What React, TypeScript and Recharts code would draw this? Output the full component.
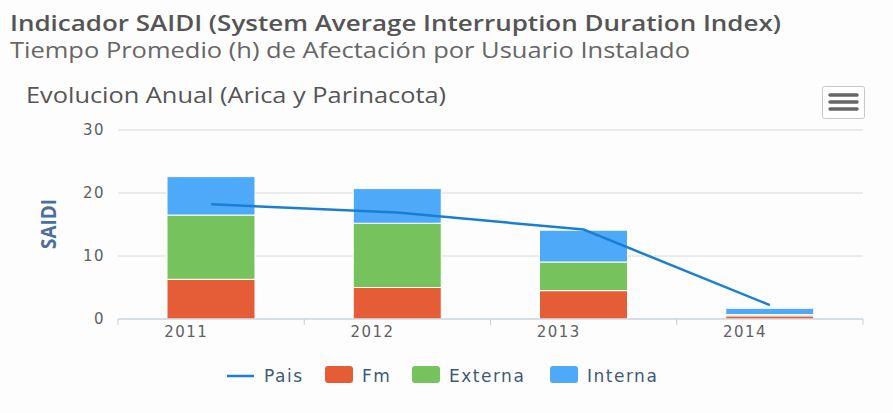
import { ComposedChart, Bar, Line, XAxis, YAxis, CartesianGrid } from "recharts";

const years = ["2011", "2012", "2013", "2014"];
const fm = [6.3, 5.0, 4.5, 0.5];
const externa = [10.2, 10.2, 4.55, 0.2];
const interna = [6.1, 5.5, 5.05, 1.0];
const pais = [18.2, 16.9, 14.2, 2.2];
const yTicks = [0, 10, 20, 30];

const data = years.map((year, i) => ({
  year,
  fm: fm[i],
  externa: externa[i],
  interna: interna[i],
  pais: pais[i],
}));

const W = 893;
const H = 413;
const margin = { top: 130, right: 30, bottom: 64, left: 0 };
const Y_AXIS_W = 118;
const PLOT_W = W - Y_AXIS_W - margin.right;
const HALF_BAND = PLOT_W / years.length / 2;

const COLORS = {
  pais: "#1a7fd2",
  fm: "#e55d36",
  externa: "#76c35e",
  interna: "#4ea9f8",
};

const tickFont = "'DejaVu Sans', Verdana, sans-serif";

// tick with boundary tick marks (category edges) and label shifted left
function XTick(props: any) {
  const { x, y, payload, index } = props;
  const last = index === years.length - 1;
  return (
    <g>
      <line x1={x - HALF_BAND} x2={x - HALF_BAND} y1={y} y2={y + 6} stroke="#c0d0e0" />
      {last && <line x1={x + HALF_BAND} x2={x + HALF_BAND} y1={y} y2={y + 6} stroke="#c0d0e0" />}
      <text
        x={x - 47}
        y={y + 18}
        fill="#606060"
        fontSize={15}
        letterSpacing={1.5}
        fontFamily={tickFont}
      >
        {payload.value}
      </text>
    </g>
  );
}

const legendItems = [
  { key: "pais", label: "Pais", type: "line", x: 227 },
  { key: "fm", label: "Fm", type: "rect", x: 325 },
  { key: "externa", label: "Externa", type: "rect", x: 412 },
  { key: "interna", label: "Interna", type: "rect", x: 550 },
] as const;

export default function App() {
  return (
    <div
      style={{
        position: "absolute",
        left: 0,
        top: 0,
        width: W,
        height: H,
        background: "#fdfdfd",
      }}
    >
      <ComposedChart width={W} height={H} data={data} margin={margin}>
        <CartesianGrid vertical={false} stroke="#d8d8d8" />
        <XAxis
          dataKey="year"
          height={30}
          tickSize={0}
          tickMargin={0}
          axisLine={{ stroke: "#c0d0e0" }}
          tickLine={false}
          tick={<XTick />}
          interval={0}
        />
        <YAxis
          width={Y_AXIS_W}
          domain={[0, 30]}
          ticks={yTicks}
          axisLine={false}
          tickLine={false}
          tickSize={6}
          tickMargin={7}
          tick={{ fill: "#606060", fontSize: 15, letterSpacing: 1.5, fontFamily: tickFont }}
        />
        <Bar dataKey="fm" stackId="s" fill={COLORS.fm} stroke="#ffffff" strokeWidth={1} barSize={88} isAnimationActive={false} />
        <Bar dataKey="externa" stackId="s" fill={COLORS.externa} stroke="#ffffff" strokeWidth={1} barSize={88} isAnimationActive={false} />
        <Bar dataKey="interna" stackId="s" fill={COLORS.interna} stroke="#ffffff" strokeWidth={1} barSize={88} isAnimationActive={false} />
        <Line
          type="linear"
          dataKey="pais"
          stroke={COLORS.pais}
          strokeWidth={2.5}
          dot={false}
          activeDot={false}
          isAnimationActive={false}
        />
      </ComposedChart>

      <svg
        width={W}
        height={H}
        style={{ position: "absolute", left: 0, top: 0, pointerEvents: "none" }}
      >
        <text x={10} y={31} fontFamily="'Open Sans', sans-serif" fontWeight={600} fontSize={21} fill="#555555" textLength={771} lengthAdjust="spacingAndGlyphs">
          Indicador SAIDI (System Average Interruption Duration Index)
        </text>
        <text x={10} y={58} fontFamily="'Open Sans', sans-serif" fontSize={21} fill="#666666" textLength={680} lengthAdjust="spacingAndGlyphs">
          Tiempo Promedio (h) de Afectación por Usuario Instalado
        </text>
        <text x={26} y={103} fontFamily="'Open Sans', sans-serif" fontSize={21} fill="#555555" textLength={420} lengthAdjust="spacingAndGlyphs">
          Evolucion Anual (Arica y Parinacota)
        </text>

        {/* export menu button */}
        <rect x={822.5} y={86.5} width={42} height={32} rx={2} fill="#ffffff" stroke="#c8c8c8" />
        {[95, 102, 109].map((ly) => (
          <line key={ly} x1={830} x2={857} y1={ly} y2={ly} stroke="#666666" strokeWidth={3.5} strokeLinecap="round" />
        ))}

        {/* y axis title */}
        <text
          x={0}
          y={0}
          transform="translate(56 224) rotate(-90)"
          textAnchor="middle"
          fontFamily="'Open Sans', sans-serif"
          fontWeight={700}
          fontSize={22}
          fill="#4a6f9c"
          textLength={50}
          lengthAdjust="spacingAndGlyphs"
        >
          SAIDI
        </text>

        {/* legend */}
        {legendItems.map((it) => (
          <g key={it.key}>
            {it.type === "line" ? (
              <line x1={it.x} x2={it.x + 27} y1={376} y2={376} stroke={COLORS[it.key]} strokeWidth={2.5} />
            ) : (
              <rect x={it.x} y={366} width={28} height={17} rx={3} fill={COLORS[it.key]} />
            )}
            <text
              x={it.x + 37}
              y={382}
              fontFamily={tickFont}
              fontSize={17}
              letterSpacing={1.5}
              fill="#3e5a78"
            >
              {it.label}
            </text>
          </g>
        ))}
      </svg>
    </div>
  );
}
